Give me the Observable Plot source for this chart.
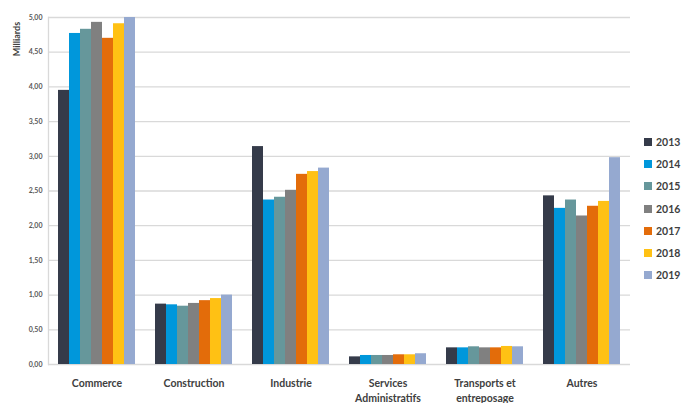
<!DOCTYPE html>
<html><head><meta charset="utf-8">
<script src="https://cdn.jsdelivr.net/npm/d3@7"></script>
<script src="https://cdn.jsdelivr.net/npm/@observablehq/plot@0.6"></script>
<style>
body{margin:0;background:#fff;}
#wrap{position:relative;width:683px;height:403px;font-family:Lato,"Open Sans",sans-serif;}
#ylab{position:absolute;left:16px;top:39px;transform:translate(-50%,-50%) rotate(-90deg);font-size:9px;font-weight:bold;color:#404040;white-space:nowrap;}
#legend{position:absolute;left:644px;top:136px;font-size:10.5px;font-weight:bold;color:#404040;}
#legend div{height:22.2px;display:flex;align-items:flex-start;}
#legend span.sw{display:inline-block;width:8px;height:8px;margin-right:4px;margin-top:2px;}
</style></head>
<body><div id="wrap"><div id="ylab">Milliards</div><div id="legend"></div></div>
<script>
const categories = ["Commerce","Construction","Industrie","Services\nAdministratifs","Transports et\nentreposage","Autres"];
const years = ["2013","2014","2015","2016","2017","2018","2019"];
const colors = ["#353B4A","#0097DB","#66979B","#808080","#E36C0A","#FFC114","#95A9D0"];
const v2013 = [3.95,0.87,3.14,0.11,0.24,2.43];
const v2014 = [4.77,0.86,2.37,0.13,0.24,2.25];
const v2015 = [4.83,0.84,2.41,0.13,0.255,2.37];
const v2016 = [4.93,0.88,2.51,0.13,0.24,2.14];
const v2017 = [4.70,0.92,2.74,0.14,0.24,2.28];
const v2018 = [4.91,0.95,2.78,0.14,0.26,2.35];
const v2019 = [5.00,1.00,2.83,0.155,0.255,2.98];
const yTicks = [0,0.5,1,1.5,2,2.5,3,3.5,4,4.5,5];

const series = [v2013,v2014,v2015,v2016,v2017,v2018,v2019];
const data = [];
categories.forEach((c,i)=>years.forEach((y,j)=>data.push({cat:c,year:y,value:series[j][i]})));
const fmt = d => d3.format(".2f")(d).replace(".",",");

const chart = Plot.plot({
  width:683, height:403,
  marginLeft:48, marginRight:53, marginTop:17, marginBottom:39,
  style:{fontFamily:"Lato, 'Open Sans', sans-serif", background:"#fff"},
  fx:{domain:categories, padding:0, label:null},
  x:{domain:years, paddingInner:0, paddingOuter:0.75, axis:null},
  y:{domain:[0,5], axis:null},
  color:{domain:years, range:colors},
  marks:[
    Plot.gridY(yTicks,{stroke:"#d9d9d9", strokeOpacity:1, strokeWidth:1.3}),
    Plot.barY(data,{fx:"cat", x:"year", y:"value", fill:"year", inset:0}),
    Plot.axisY(yTicks,{anchor:"left", tickSize:0, tickPadding:6, tickFormat:fmt, fontSize:7, fontWeight:"bold", fill:"#595959", label:null}),
    Plot.axisFx({anchor:"bottom", tickSize:0, tickPadding:12, fontSize:10.5, fontWeight:"bold", fill:"#404040", label:null, lineHeight:1.4}),
    Plot.frame({anchor:"left", stroke:"#d9d9d9", strokeWidth:1.3, facetAnchor:"left"})
  ]
});
document.getElementById("wrap").prepend(chart);
chart.style.position="absolute"; chart.style.left="0"; chart.style.top="0";
const lg = document.getElementById("legend");
years.forEach((y,i)=>{
  const d=document.createElement("div");
  d.innerHTML=`<span class="sw" style="background:${colors[i]}"></span>${y}`;
  lg.appendChild(d);
});
</script></body></html>
